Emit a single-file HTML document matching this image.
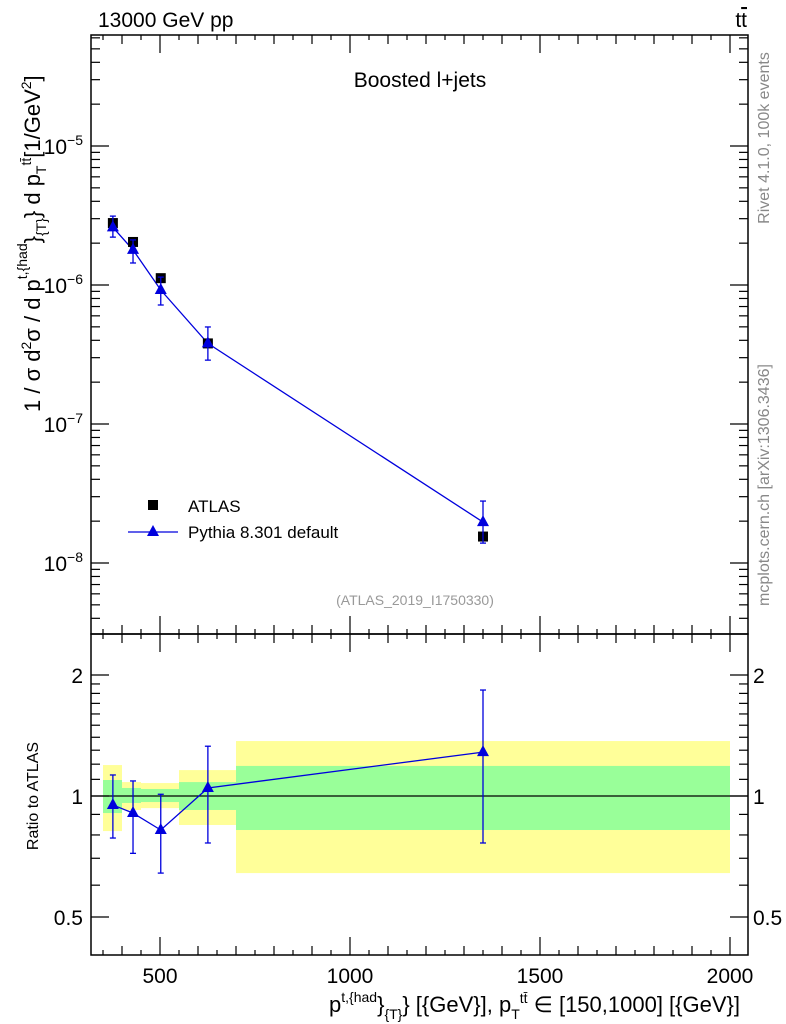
<!DOCTYPE html>
<html><head><meta charset="utf-8"><style>
body{margin:0;background:#fff;}
svg{display:block;font-family:"Liberation Sans",sans-serif;}
</style></head><body>
<svg id="c" width="786" height="1024" xmlns="http://www.w3.org/2000/svg">
<g id="bands"></g>
<g id="marks"></g>
<g id="axes" stroke="#000" fill="none"></g>
<g id="txt"></g>
</svg>
<script>
const binLo=[350,400,450,550,700];
const binHi=[400,450,550,700,2000];
const xPts=[376,429,502,626,1350];
const atlas=[2.79e-6,2.04e-6,1.12e-6,3.8e-7,1.55e-8];
const pythia=[2.6e-6,1.79e-6,9.2e-7,3.8e-7,1.97e-8];
const pyHi=[3.13e-6,2.11e-6,1.14e-6,4.99e-7,2.79e-8];
const pyLo=[2.21e-6,1.44e-6,7.18e-7,2.88e-7,1.39e-8];
const ratio=[0.95,0.907,0.823,1.047,1.286];
const ratioHi=[1.128,1.09,1.01,1.33,1.835];
const ratioLo=[0.786,0.72,0.643,0.764,0.764];
const yelHi=[1.194,1.083,1.077,1.16,1.37];
const yelLo=[0.818,0.923,0.933,0.847,0.643];
const grnHi=[1.096,1.047,1.041,1.083,1.188];
const grnLo=[0.907,0.961,0.966,0.923,0.823];
const xTicks=[500,1000,1500,2000];
const yTicksMain=[-5,-6,-7,-8];
const yTicksRatio=[0.5,1,2];

const NS="http://www.w3.org/2000/svg";
const L=91,R=748,T=35,M=634,B=955;
const X=v=>160+(v-500)*0.38;
const Y=v=>146-(Math.log10(v)+5)*139;
const YR=v=>796-Math.log2(v)*121;
function mk(p,tag,a){const e=document.createElementNS(NS,tag);for(const k in a)e.setAttribute(k,a[k]);document.getElementById(p).appendChild(e);return e;}
function tx(s,x,y,size,anchor,fill){const e=mk('txt','text',{x:x,y:y,'font-size':size,'text-anchor':anchor||'start',fill:fill||'#000'});e.innerHTML=s;return e;}

for(let i=0;i<binLo.length;i++){
 const y=mk('bands','rect',{x:X(binLo[i]),y:YR(yelHi[i]),width:X(binHi[i])-X(binLo[i]),height:YR(yelLo[i])-YR(yelHi[i]),fill:'#ffff99'});
 
 
 const g=mk('bands','rect',{x:X(binLo[i]),y:YR(grnHi[i]),width:X(binHi[i])-X(binLo[i]),height:YR(grnLo[i])-YR(grnHi[i]),fill:'#99ff99'});
 
 
}
mk('bands','line',{x1:L,x2:R,y1:YR(1),y2:YR(1),stroke:'#000','stroke-width':1.3});

let pts=xPts.map((v,i)=>X(v)+','+Y(pythia[i])).join(' ');
let pl=mk('marks','polyline',{points:pts,fill:'none',stroke:'#0000dd','stroke-width':1.3});


let pr=mk('marks','polyline',{points:xPts.map((v,i)=>X(v)+','+YR(ratio[i])).join(' '),fill:'none',stroke:'#0000dd','stroke-width':1.3});


function tri(x,y){return (x)+','+(y-7)+' '+(x-6)+','+(y+4)+' '+(x+6)+','+(y+4);}
function err(x,y1,y2){mk('marks','line',{x1:x,x2:x,y1:y1,y2:y2,stroke:'#0000dd','stroke-width':1.3});
 mk('marks','line',{x1:x-3,x2:x+3,y1:y1,y2:y1,stroke:'#0000dd','stroke-width':1.3});
 mk('marks','line',{x1:x-3,x2:x+3,y1:y2,y2:y2,stroke:'#0000dd','stroke-width':1.3});}
for(let i=0;i<xPts.length;i++){
 const x=X(xPts[i]);
 const a=mk('marks','rect',{x:x-5,y:Y(atlas[i])-5,width:10,height:10,fill:'#000'});
 
 
 err(x,Y(pyHi[i]),Y(pyLo[i]));
 const p=mk('marks','polygon',{points:tri(x,Y(pythia[i])),fill:'#0000dd'});
 
 
 err(x,YR(ratioHi[i]),YR(ratioLo[i]));
 const r=mk('marks','polygon',{points:tri(x,YR(ratio[i])),fill:'#0000dd'});
 
 
}

mk('axes','rect',{x:L,y:T,width:R-L,height:M-T,'stroke-width':1.5});
mk('axes','rect',{x:L,y:M,width:R-L,height:B-M,'stroke-width':1.5});
for(let v=350;v<=2040;v+=50){
 const len=v%500==0?18:(v%100==0?9:5);
 [M,B].forEach(b=>{mk('axes','line',{x1:X(v),x2:X(v),y1:b,y2:b-len,'stroke-width':1.2});
  mk('axes','line',{x1:X(v),x2:X(v),y1:b==M?T:M,y2:(b==M?T:M)+len,'stroke-width':1.2});});
}
xTicks.forEach(v=>tx(v,X(v),983,21,'middle'));
for(let d=-9;d<=-4;d++){for(let m=1;m<10;m++){const v=m*Math.pow(10,d);const y=Y(v);if(y<T||y>M)continue;
 const len=m==1?18:9;
 mk('axes','line',{x1:L,x2:L+len,y1:y,y2:y,'stroke-width':1.2});
 mk('axes','line',{x1:R,x2:R-len,y1:y,y2:y,'stroke-width':1.2});}}
yTicksMain.forEach(d=>tx('10<tspan font-size="14" dy="-9">'+d.toString().replace('-','−')+'</tspan>',83,Y(Math.pow(10,d))+8,21,'end'));
[0.5,0.6,0.7,0.8,0.9,1,1.1,1.2,1.3,1.4,1.5,1.6,1.7,1.8,1.9,2].forEach(v=>{const y=YR(v);const len=(v==0.5||v==1||v==2)?18:9;
 mk('axes','line',{x1:L,x2:L+len,y1:y,y2:y,'stroke-width':1.2});
 mk('axes','line',{x1:R,x2:R-len,y1:y,y2:y,'stroke-width':1.2});});
yTicksRatio.forEach(v=>{tx(v,83,YR(v)+8,21,'end');tx(v,753,YR(v)+8,21,'start');});

tx('13000 GeV pp',98,27,21);
tx('t<tspan text-decoration="overline">t</tspan>',747,27,21,'end');
tx('Boosted l+jets',420,87,21,'middle');
tx('(ATLAS_2019_I1750330)',415,605,14,'middle','#999');
mk('marks','rect',{x:148,y:500,width:10,height:10,fill:'#000'});
tx('ATLAS',188,512,17);
mk('marks','line',{x1:128,x2:178,y1:532,y2:532,stroke:'#0000dd','stroke-width':1.3});
mk('marks','polygon',{points:tri(153,532),fill:'#0000dd'});
tx('Pythia 8.301 default',188,538,17);
let yl=tx('1 / σ d<tspan font-size="14" dy="-9">2</tspan><tspan dy="9">σ / d p</tspan><tspan font-size="14" dy="-13">t,{had</tspan><tspan dy="13">}</tspan><tspan font-size="14" dy="6">{T}</tspan><tspan dy="-6">} d p</tspan><tspan font-size="14" dy="6">T</tspan><tspan font-size="14" dy="-15">tt̄</tspan><tspan dy="9">[1/GeV</tspan><tspan font-size="14" dy="-9">2</tspan><tspan dy="9">]</tspan>',0,0,22,'start');
yl.setAttribute('transform','translate(40,412) rotate(-90)');


let rl=tx('Ratio to ATLAS',0,0,16,'middle');rl.setAttribute('transform','translate(38,796) rotate(-90)');
let r1=tx('Rivet 4.1.0,  100k events',0,0,16,'middle','#888');r1.setAttribute('transform','translate(769,138) rotate(-90)');
let r2=tx('mcplots.cern.ch [arXiv:1306.3436]',0,0,16,'middle','#888');r2.setAttribute('transform','translate(769,485) rotate(-90)');
let xl=tx('p<tspan font-size="14" dy="-10">t,{had</tspan><tspan dy="10">}</tspan><tspan font-size="14" dy="7">{T}</tspan><tspan dy="-7">} [{GeV}], p</tspan><tspan font-size="14" dy="7">T</tspan><tspan font-size="14" dy="-16">tt̄</tspan><tspan dy="9"> ∈ [150,1000] [{GeV}]</tspan>',740,1012,22,'end');


</script>
</body></html>
